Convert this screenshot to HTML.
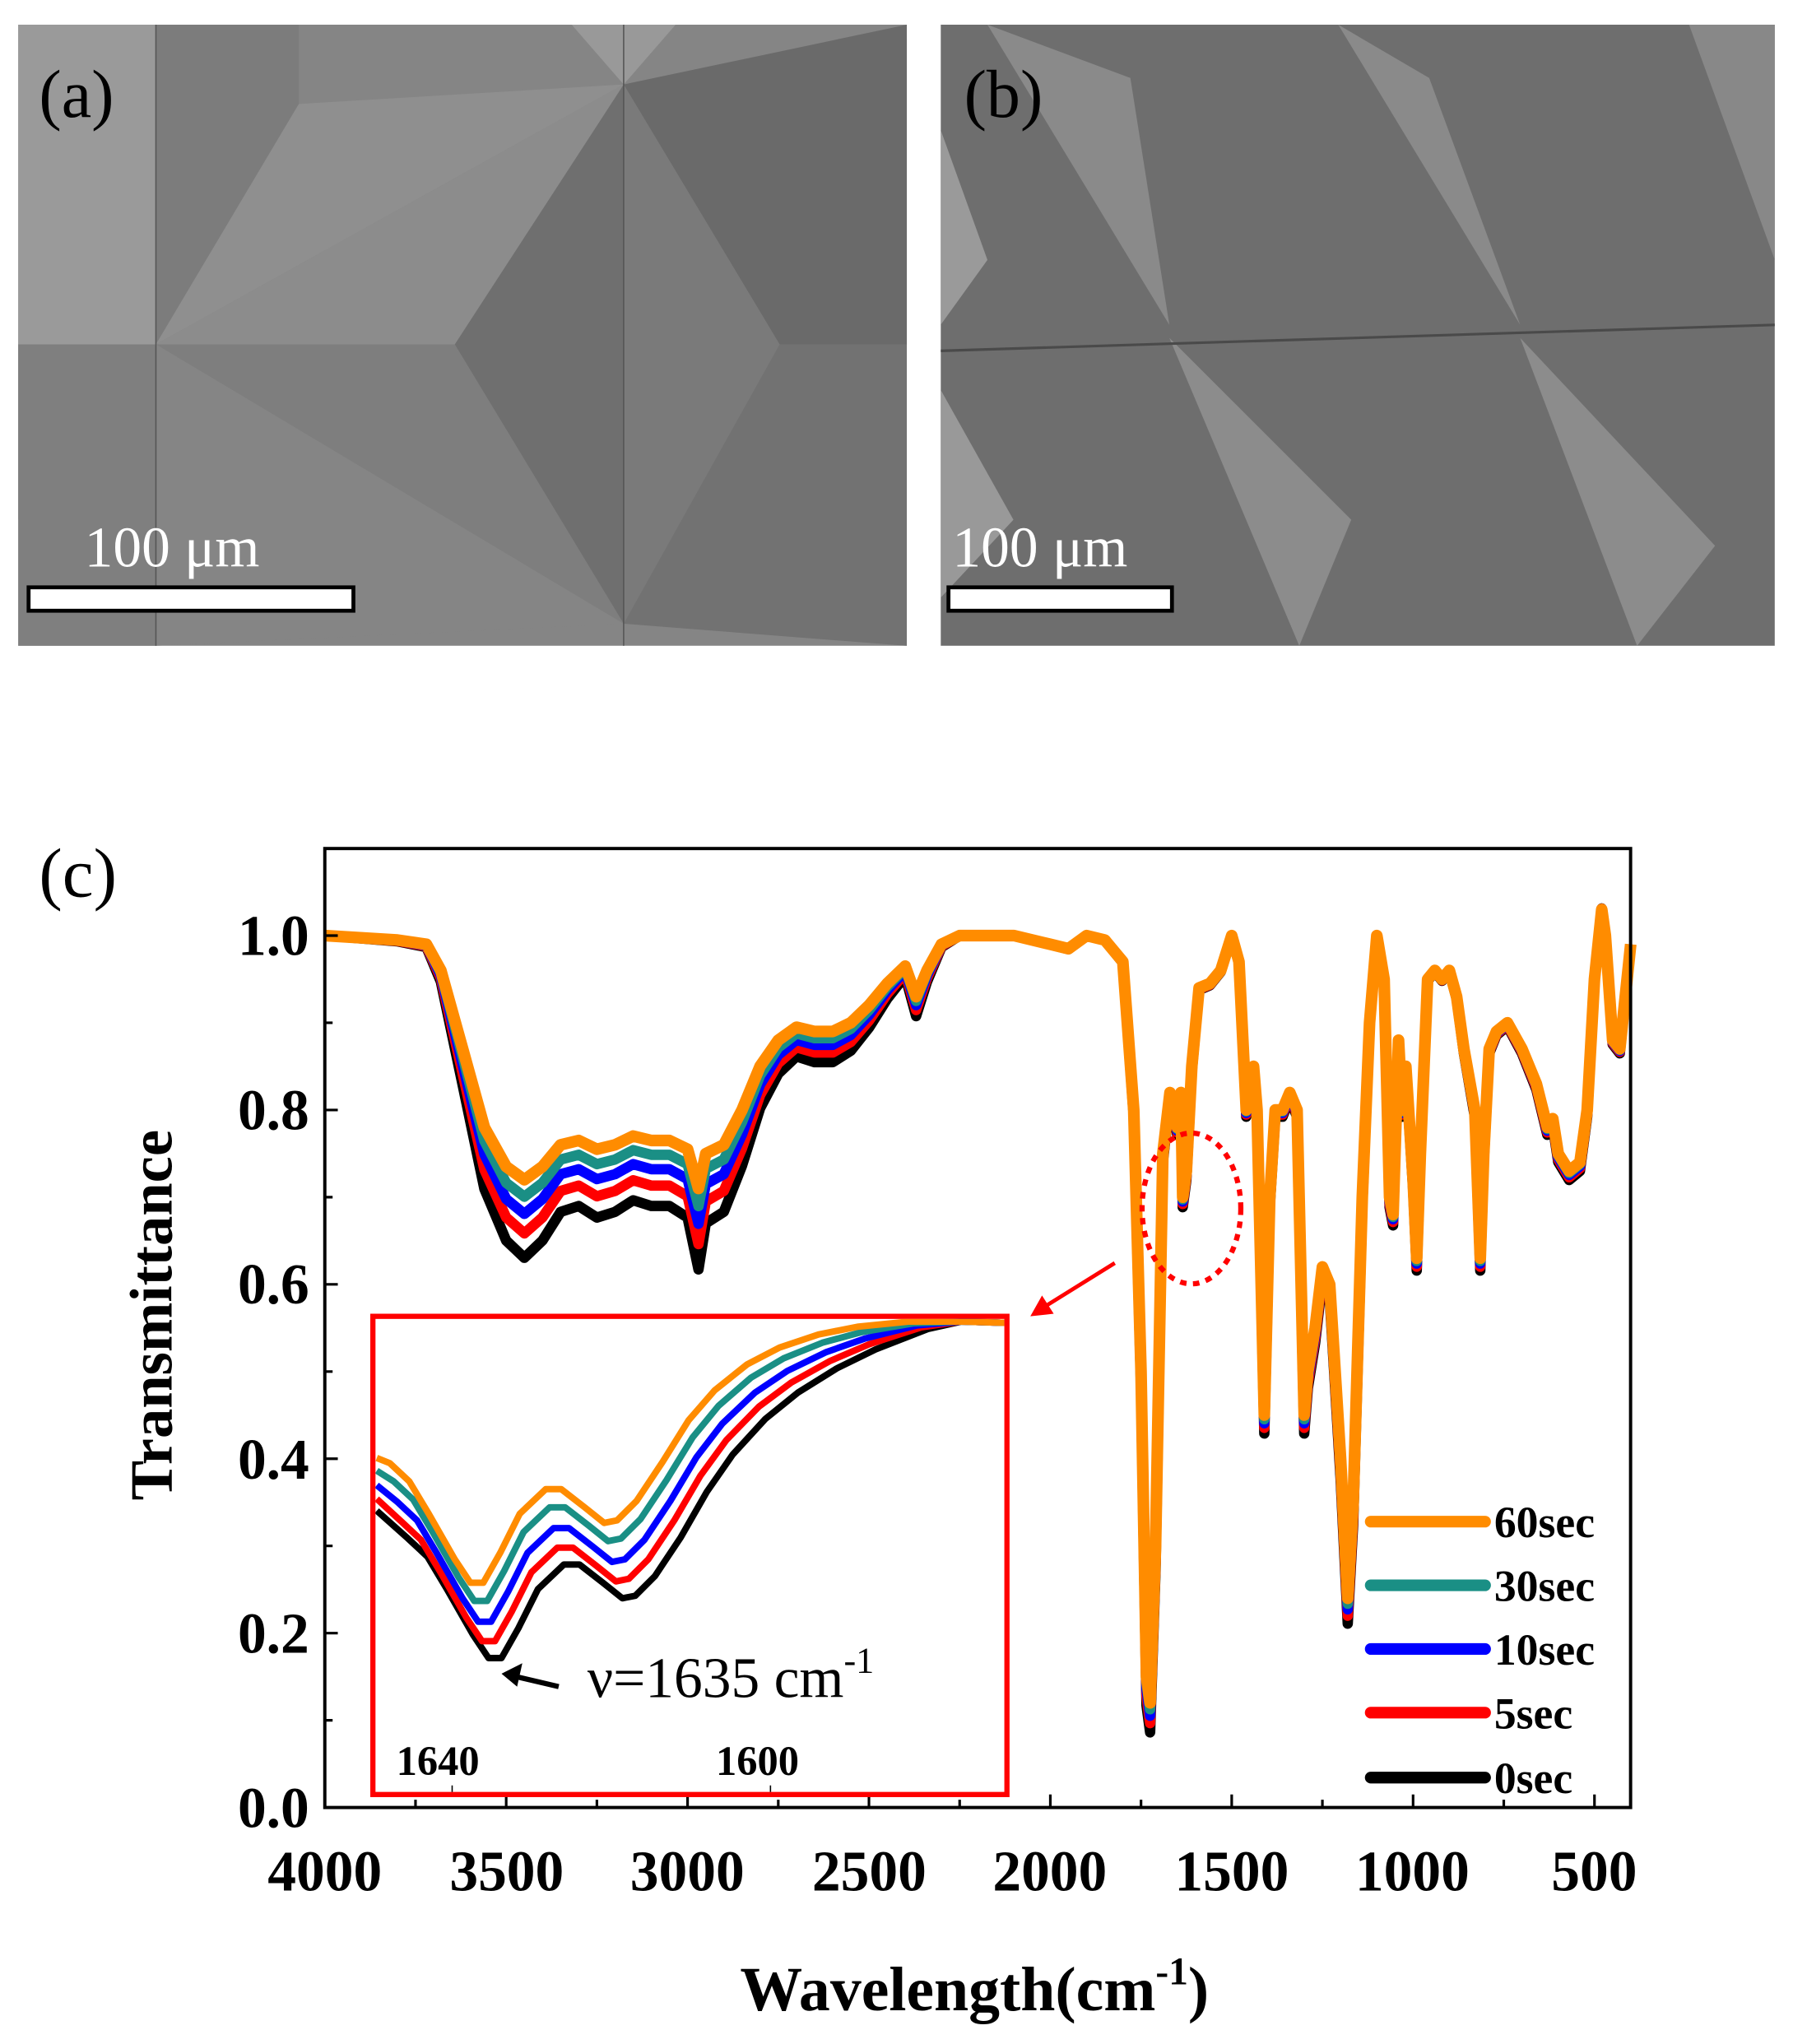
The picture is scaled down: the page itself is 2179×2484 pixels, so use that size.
<!DOCTYPE html>
<html><head><meta charset="utf-8">
<style>
html,body{margin:0;padding:0;background:#fff;}
svg{display:block;}
text{font-family:"Liberation Serif",serif;}
</style></head>
<body>
<svg id="s" width="2179" height="2484" viewBox="0 0 1380 1573" preserveAspectRatio="none" xmlns="http://www.w3.org/2000/svg">
<defs>
<clipPath id="ca"><rect x="14" y="19" width="684" height="478"/></clipPath>
<clipPath id="cb"><rect x="724" y="19" width="642" height="478"/></clipPath>
<clipPath id="ci"><rect x="289" y="1015" width="484" height="364"/></clipPath>
</defs>
<g clip-path="url(#ca)">
<rect x="14" y="19" width="684" height="478" fill="#858585"/>
<polygon points="14,19 120,19 120,265 14,265" fill="#9a9a9a"/>
<polygon points="120,19 230,19 230,80 120,265" fill="#7c7c7c"/>
<polygon points="230,80 480,65 120,265" fill="#8f8f8f"/>
<polygon points="480,65 480,480 350,265" fill="#6f6f6f"/>
<polygon points="120,265 350,265 480,480" fill="#7e7e7e"/>
<polygon points="120,265 350,265 480,65" fill="#8c8c8c"/>
<polygon points="480,65 698,19 698,265 600,265" fill="#6a6a6a"/>
<polygon points="480,65 600,265 480,480" fill="#7a7a7a"/>
<polygon points="600,265 698,265 698,497 480,480" fill="#727272"/>
<polygon points="14,265 120,265 14,400" fill="#8a8a8a"/>
<polygon points="14,265 120,265 120,497 14,497" fill="#7f7f7f"/>
<polygon points="120,265 480,480 120,497" fill="#858585"/>
<polygon points="440,19 520,19 480,65" fill="#999"/>
<line x1="120" y1="19" x2="120" y2="497" stroke="#555" stroke-width="1"/>
<line x1="480" y1="19" x2="480" y2="497" stroke="#555" stroke-width="1"/>
</g>
<rect x="22" y="452" width="250" height="18" fill="#fff" stroke="#000" stroke-width="3"/>
<text x="65" y="436" font-size="44" fill="#fff">100 μm</text>
<text x="30" y="90" font-size="52" fill="#000">(a)</text>
<g clip-path="url(#cb)">
<rect x="724" y="19" width="642" height="478" fill="#6e6e6e"/>
<polygon points="760,19 900,250 870,60" fill="#8a8a8a"/>
<polygon points="1030,19 1170,250 1100,60" fill="#8a8a8a"/>
<polygon points="1300,19 1366,200 1366,19" fill="#888"/>
<polygon points="900,260 1000,497 1040,400" fill="#8c8c8c"/>
<polygon points="1170,260 1260,497 1320,420" fill="#8c8c8c"/>
<polygon points="724,100 760,200 724,250" fill="#9a9a9a"/>
<polygon points="724,300 780,400 724,460" fill="#999"/>
<line x1="724" y1="270" x2="1366" y2="250" stroke="#4a4a4a" stroke-width="2"/>
</g>
<rect x="730" y="452" width="172" height="18" fill="#fff" stroke="#000" stroke-width="3"/>
<text x="733" y="436" font-size="44" fill="#fff">100 μm</text>
<text x="742" y="90" font-size="52" fill="#000">(b)</text>
<text x="30" y="690" font-size="54">(c)</text>
<g id="curves"></g>
<rect x="250" y="653" width="1005" height="738" fill="none" stroke="#000" stroke-width="2.5"/>
<g id="ticks" stroke="#000" stroke-width="2"></g>
<g font-weight="bold" font-size="44" text-anchor="end">
<text x="238" y="1406">0.0</text><text x="238" y="1272">0.2</text><text x="238" y="1138">0.4</text>
<text x="238" y="1003">0.6</text><text x="238" y="869">0.8</text><text x="238" y="735">1.0</text>
</g>
<g font-weight="bold" font-size="44" text-anchor="middle">
<text x="250" y="1455">4000</text><text x="390" y="1455">3500</text><text x="529" y="1455">3000</text>
<text x="669" y="1455">2500</text><text x="808" y="1455">2000</text><text x="948" y="1455">1500</text>
<text x="1087" y="1455">1000</text><text x="1227" y="1455">500</text>
</g>
<text transform="translate(132,1012) rotate(-90)" font-weight="bold" font-size="46" text-anchor="middle">Transmittance</text>
<text x="750" y="1547" font-weight="bold" font-size="48" text-anchor="middle">Wavelength(cm<tspan font-size="30" dy="-20">-1</tspan><tspan dy="20">)</tspan></text>
<rect x="287" y="1013" width="488" height="368" fill="#fff" stroke="#ff0000" stroke-width="4"/>
<g id="inset" clip-path="url(#ci)"></g>
<line x1="348" y1="1379" x2="348" y2="1374" stroke="#000"/><line x1="593" y1="1379" x2="593" y2="1374" stroke="#000"/>
<text x="305" y="1366" font-weight="bold" font-size="32">1640</text>
<text x="551" y="1366" font-weight="bold" font-size="32">1600</text>
<text x="452" y="1306" font-size="44">ν=1635 cm<tspan font-size="28" dy="-19">-1</tspan></text>
<line x1="430" y1="1298" x2="396" y2="1290" stroke="#000" stroke-width="4"/>
<polygon points="386,1288 402,1280 398,1298" fill="#000"/>
<ellipse cx="917" cy="930" rx="38" ry="58" fill="none" stroke="#ff0000" stroke-width="4" stroke-dasharray="5,5"/>
<line x1="858" y1="972" x2="805" y2="1005" stroke="#ff0000" stroke-width="3"/>
<polygon points="793,1013 802,997 811,1011" fill="#ff0000"/>
<g id="legend" font-weight="bold" font-size="34"></g>
</svg>
<script>
var cols=["#000000","#ff0000","#0000ff","#1a8f85","#ff8c00"];
var names=["0sec","5sec","10sec","30sec","60sec"];
var sc=[1.32,1.22,1.14,1.07,1];
var P=[[4000,1.0],[3800,0.995],[3720,0.99],[3680,0.96],[3620,0.87],[3560,0.78],[3500,0.735],[3450,0.72],[3400,0.735],[3350,0.76],[3300,0.765],[3250,0.755],[3200,0.76],[3150,0.77],[3100,0.765],[3050,0.765],[3000,0.755],[2970,0.71],[2950,0.75],[2900,0.76],[2850,0.8],[2800,0.85],[2750,0.88],[2700,0.895],[2650,0.89],[2600,0.89],[2550,0.9],[2500,0.92],[2450,0.945],[2400,0.965],[2370,0.93],[2340,0.96],[2300,0.99],[2250,1.0],[2100,1.0],[2000,0.99],[1950,0.985],[1900,1.0],[1850,0.995],[1800,0.97],[1770,0.8],[1750,0.5],[1735,0.15],[1725,0.12],[1710,0.3],[1690,0.75],[1670,0.82],[1650,0.78],[1640,0.82],[1635,0.7],[1625,0.73],[1610,0.85],[1590,0.94],[1560,0.945],[1530,0.96],[1500,1.0],[1480,0.97],[1460,0.8],[1440,0.85],[1430,0.8],[1410,0.45],[1395,0.7],[1380,0.8],[1360,0.8],[1340,0.82],[1320,0.8],[1300,0.45],[1290,0.5],[1270,0.55],[1250,0.62],[1230,0.6],[1200,0.4],[1180,0.24],[1165,0.35],[1140,0.7],[1120,0.9],[1100,1.0],[1080,0.95],[1065,0.7],[1055,0.68],[1040,0.88],[1030,0.8],[1020,0.85],[1000,0.72],[990,0.63],[980,0.75],[960,0.95],[940,0.96],[920,0.95],[900,0.96],[880,0.93],[860,0.87],[830,0.8],[815,0.63],[805,0.75],[790,0.87],[770,0.89],[740,0.9],[700,0.87],[660,0.83],[630,0.78],[615,0.79],[600,0.75],[570,0.73],[540,0.74],[520,0.8],[500,0.95],[480,1.03],[470,1.0],[450,0.88],[430,0.87],[410,0.95],[400,0.99]];
function X(w){return 250+(4000-w)*0.2792;}
function Y(t){return 1391-t*671;}
var ns="http://www.w3.org/2000/svg";
var g=document.getElementById("curves");
for(var k=0;k<5;k++){
 var d="";
 for(var i=0;i<P.length;i++){
  var w=P[i][0],t=P[i][1],s=sc[k];
  if(w<2250) s=1+(s-1)*0.12;
  var tt=1-(1-t)*s;
  d+=(i?"L":"M")+X(w).toFixed(1)+","+Y(tt).toFixed(1);
 }
 var p=document.createElementNS(ns,"path");
 p.setAttribute("d",d);p.setAttribute("fill","none");p.setAttribute("stroke",cols[k]);
 p.setAttribute("stroke-width",k==4?9:8);p.setAttribute("stroke-linejoin","round");
 g.appendChild(p);
}
var I=[[290,1122],[300,1126],[315,1140],[330,1165],[350,1200],[362,1218],[372,1218],[385,1195],[400,1165],[420,1146],[432,1146],[450,1160],[465,1172],[475,1170],[490,1155],[510,1125],[530,1093],[550,1070],[575,1050],[600,1037],[630,1027],[660,1021],[700,1017],[740,1017],[773,1018]];
var gi=document.getElementById("inset");
var yOff=[58,45,30,14,0],xOff=[14,9,6,3,0];
for(var k=0;k<5;k++){
 var d="";
 for(var i=0;i<I.length;i++){
  var x=I[i][0],y=I[i][1];
  var f=x<520?1:(x>720?0:(720-x)/200);
  var fx=x<300?0:(x>720?0:1);
  d+=(i?"L":"M")+(x+xOff[k]*fx).toFixed(1)+","+(y+yOff[k]*f*(x<300?0.7:1)).toFixed(1);
 }
 var p=document.createElementNS(ns,"path");
 p.setAttribute("d",d);p.setAttribute("fill","none");p.setAttribute("stroke",cols[k]);
 p.setAttribute("stroke-width",5);p.setAttribute("stroke-linejoin","round");
 gi.appendChild(p);
}
var tk=document.getElementById("ticks"),ts="";
for(var v=0;v<=1.1001;v+=0.1){var y=Y(v),L=(Math.round(v*10)%2==0)?10:6;
 ts+="M250,"+y.toFixed(1)+"h"+L+" ";}
for(var w=4000;w>=500;w-=250){var x=X(w),L=(w%500==0)?10:6;
 ts+="M"+x.toFixed(1)+",1391v-"+L+" ";}
var tp=document.createElementNS(ns,"path");tp.setAttribute("d",ts);tk.appendChild(tp);
var lg=document.getElementById("legend");
var ly=[1368,1318,1269,1220,1171];
for(var k=0;k<5;k++){
 var l=document.createElementNS(ns,"line");
 l.setAttribute("x1",1055);l.setAttribute("x2",1143);l.setAttribute("y1",ly[k]);l.setAttribute("y2",ly[k]);
 l.setAttribute("stroke",cols[k]);l.setAttribute("stroke-width",9);l.setAttribute("stroke-linecap","round");
 lg.appendChild(l);
 var t=document.createElementNS(ns,"text");
 t.setAttribute("x",1150);t.setAttribute("y",ly[k]+12);t.textContent=names[k];
 lg.appendChild(t);
}
</script>
</body></html>
